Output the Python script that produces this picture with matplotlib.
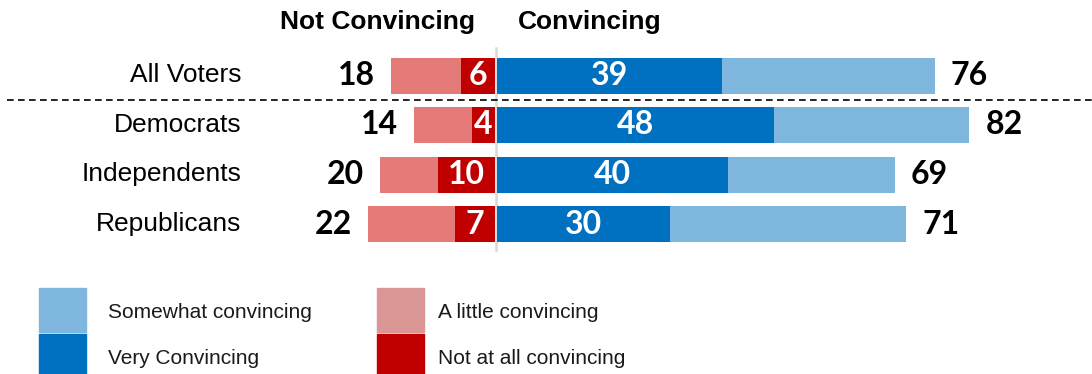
import matplotlib
matplotlib.use("Agg")
import matplotlib.pyplot as plt
from matplotlib.patches import Rectangle

# Survey results (percent)
groups = ["All Voters", "Democrats", "Independents", "Republicans"]
very_convincing = [39, 48, 40, 30]
total_convincing = [76, 82, 69, 71]
not_at_all = [6, 4, 10, 7]
total_not_convincing = [18, 14, 20, 22]

somewhat_convincing = [t - v for t, v in zip(total_convincing, very_convincing)]
little_convincing = [t - n for t, n in zip(total_not_convincing, not_at_all)]

C_SOMEWHAT = "#7fb6de"
C_VERY = "#0070c0"
C_LITTLE = "#e57b78"
C_NOTATALL = "#c00000"
C_LEG_LITTLE = "#da9694"

W, H, DPI = 1092, 374, 100
fig = plt.figure(figsize=(W / DPI, H / DPI), dpi=DPI)
ax = fig.add_axes([0, 0, 1, 1])
ax.set_axis_off()

PX_PER_UNIT = 5.76
X0 = 496.0
ROW_Y0, ROW_STEP = 75.5, 49.5
ax.set_xlim(-X0 / PX_PER_UNIT, (W - X0) / PX_PER_UNIT)
ax.set_ylim((H - ROW_Y0) / ROW_STEP, -ROW_Y0 / ROW_STEP)

bar_h = 36 / ROW_STEP
ys = list(range(len(groups)))

# Convincing side (right)
ax.barh(ys, very_convincing, height=bar_h, left=0.2, color=C_VERY, zorder=2)
ax.barh(ys, somewhat_convincing, height=bar_h, left=[v + 0.2 for v in very_convincing],
        color=C_SOMEWHAT, zorder=2)
# Not convincing side (left)
ax.barh(ys, [-n for n in not_at_all], height=bar_h, left=-0.15, color=C_NOTATALL, zorder=2)
ax.barh(ys, [-l for l in little_convincing], height=bar_h,
        left=[-n - 0.15 for n in not_at_all], color=C_LITTLE, zorder=2)

num_font = dict(family="Lato", fontweight="bold", fontsize=23)
gap = 16 / PX_PER_UNIT
for y, v, t, n, tn in zip(ys, very_convincing, total_convincing, not_at_all, total_not_convincing):
    ax.text(v / 2 + 0.2, y, str(v), color="white", ha="center", va="center", zorder=3, **num_font)
    ax.text(t + 0.2 + gap, y, str(t), color="black", ha="left", va="center", zorder=3, **num_font)
    ax.text(-n / 2 - 0.15, y, str(n), color="white", ha="center", va="center", zorder=3, **num_font)
    ax.text(-tn - 0.15 - gap, y, str(tn), color="black", ha="right", va="center", zorder=3, **num_font)

# Group labels
label_x = (241 - X0) / PX_PER_UNIT
for y, g in zip(ys, groups):
    ax.text(label_x, y, g, ha="right", va="center", fontsize=19,
            family="Liberation Sans", color="black")

# Center divider
ax.plot([0, 0], [(48 - ROW_Y0) / ROW_STEP, (250 - ROW_Y0) / ROW_STEP],
        color="#d9d9d9", lw=1.8, zorder=1)

# Dashed separator between all voters and party groups
ax.plot([(7 - X0) / PX_PER_UNIT, (W - X0) / PX_PER_UNIT], [0.5, 0.5],
        color="black", lw=1.2, ls=(0, (4, 2.6)), zorder=1)

# Column headers
ax.text((378 - X0) / PX_PER_UNIT, (22 - ROW_Y0) / ROW_STEP, "Not Convincing",
        ha="center", va="center", fontsize=19, fontweight="bold", family="Liberation Sans")
ax.text((590 - X0) / PX_PER_UNIT, (22 - ROW_Y0) / ROW_STEP, "Convincing",
        ha="center", va="center", fontsize=19, fontweight="bold", family="Liberation Sans")

# Legend (figure pixel coordinates)
def px_rect(x0, y0, x1, y1, color):
    fig.patches.append(Rectangle((x0 / W, 1 - y1 / H), (x1 - x0) / W, (y1 - y0) / H,
                                 transform=fig.transFigure, color=color, zorder=2))

def px_text(x, y, s):
    fig.text(x / W, 1 - y / H, s, ha="left", va="center", fontsize=15,
             family="Liberation Sans", color="#1a1a1a")

legend_items = [
    (39, 288, 332, C_SOMEWHAT, 108, 313, "Somewhat convincing"),
    (39, 334, 374, C_VERY, 108, 358, "Very Convincing"),
    (377, 288, 332, C_LEG_LITTLE, 438, 313, "A little convincing"),
    (377, 334, 374, C_NOTATALL, 438, 358, "Not at all convincing"),
]
for x0, y0, y1, col, tx, ty, label in legend_items:
    px_rect(x0, y0, x0 + 47, y1, col)
    px_text(tx, ty, label)

fig.savefig("out.png", dpi=DPI)
